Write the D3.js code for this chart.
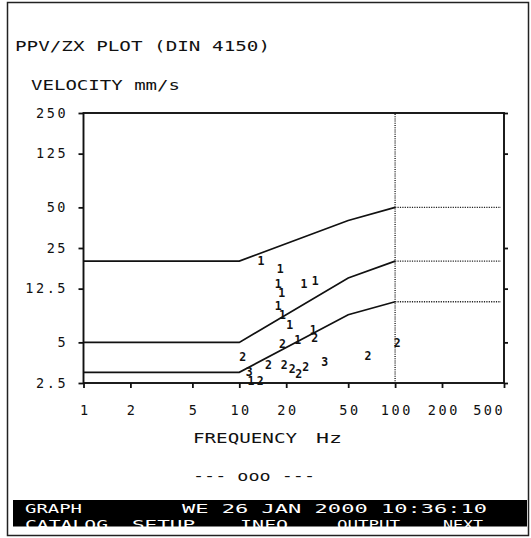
<!DOCTYPE html>
<html><head><meta charset="utf-8">
<script src="https://cdn.jsdelivr.net/npm/d3@7"></script>
<style>
html,body{margin:0;padding:0;background:#fff;}
svg text{font-family:"DejaVu Sans Mono",monospace;}
</style></head>
<body><svg id="c" width="531" height="538"></svg>
<script>
// ---- data ----
const yTicks = [2.5, 5, 12.5, 25, 50, 125, 250];
const yTickLabels = ["2.5", "5", "12.5", "25", "50", "125", "250"];
const rightTicks = [2.5, 5, 12.5, 25, 125, 250];
const xTicks = [1, 2, 5, 10, 20, 50, 100, 200, 500];
const xTickLabels = ["1", "2", "5", "10", "20", "50", "100", "200", "500"];

const limitFreq = [1, 10, 50, 100];
const limit1 = [20, 20, 40, 50];
const limit2 = [5, 5, 15, 20];
const limit3 = [3, 3, 8, 10];
const extFreq = [100, 500];

const p1Freq = [13.8, 18.3, 17.8, 18.7, 26, 30.7, 17.8, 18.9, 21.1, 23.7, 29.8, 11.9];
const p1Vel  = [20, 17.4, 13.5, 11.7, 13.5, 14.2, 9.3, 8.0, 6.7, 5.2, 6.2, 2.6];
const p2Freq = [30.5, 18.9, 10.5, 15.4, 19.4, 21.9, 24.1, 26.7, 67, 103, 13.6];
const p2Vel  = [5.4, 4.9, 3.9, 3.4, 3.4, 3.2, 2.9, 3.3, 4.0, 5.0, 2.6];
const p3Freq = [11.6, 35.4];
const p3Vel  = [3.0, 3.6];

// ---- drawing ----
const svg = d3.select("#c");
const L = 83.5, R = 504, T = 113, B = 383;
const x = d3.scaleLog().domain([1, 500]).range([L, R]);
const y = d3.scaleLog().domain([2.5, 250]).range([B, T]);

// page border
svg.append("rect").attr("x", 7.5).attr("y", 2.5).attr("width", 521).attr("height", 533)
  .attr("fill", "none").attr("stroke", "#222").attr("stroke-width", 1.5);

function txt(s, px, py, len, opts = {}) {
  const t = svg.append("text").attr("x", px).attr("y", py).text(s)
    .attr("font-size", opts.size || 13.5).attr("fill", opts.fill || "#111");
  if (len) t.attr("textLength", len).attr("lengthAdjust", "spacingAndGlyphs");
  if (opts.anchor) t.attr("text-anchor", opts.anchor);
  return t;
}

txt("PPV/ZX PLOT (DIN 4150)", 15, 51, 255);
txt("VELOCITY mm/s", 31, 90, 149);

// axes via d3
const yAxisL = d3.axisLeft(y).tickValues(yTicks).tickSize(5).tickFormat((d, i) => yTickLabels[i]).tickPadding(13);
const gL = svg.append("g").attr("transform", `translate(${L},0)`).call(yAxisL);
const yAxisR = d3.axisRight(y).tickValues(rightTicks).tickSize(4).tickFormat("");
const gR = svg.append("g").attr("transform", `translate(${R},0)`).call(yAxisR);
const xAxisB = d3.axisBottom(x).tickValues(xTicks).tickSize(5).tickFormat((d, i) => xTickLabels[i]).tickPadding(17);
const gB = svg.append("g").attr("transform", `translate(0,${B})`).call(xAxisB);

[gL, gR, gB].forEach(g => {
  g.select(".domain").remove();
  g.selectAll(".tick line").attr("stroke", "#111").attr("stroke-width", 1.8);
  g.selectAll(".tick text").attr("font-family", "DejaVu Sans Mono, monospace")
    .attr("font-size", 13.5).attr("fill", "#111").attr("letter-spacing", "2.6px");
});
gL.selectAll(".tick text").attr("dx", "2.6px");
gB.selectAll(".tick text").each(function () {
  const t = d3.select(this);
  const w = this.getComputedTextLength();
  const tx = +d3.select(this.parentNode).attr("transform").match(/translate\(([\d.]+)/)[1];
  let dx = 1.3;
  if (tx + w / 2 > R) dx = R - (tx + w / 2) + 1.3;
  t.attr("dx", dx);
});

// frame
svg.append("rect").attr("x", L).attr("y", T).attr("width", R - L).attr("height", B - T)
  .attr("fill", "none").attr("stroke", "#111").attr("stroke-width", 1.9);

// dotted 100 Hz vertical & extensions
svg.append("line").attr("x1", x(100)).attr("x2", x(100)).attr("y1", T + 1).attr("y2", B)
  .attr("stroke", "#222").attr("stroke-width", 1.4).attr("stroke-dasharray", "1,1.2");
[limit1, limit2, limit3].forEach(lim => {
  const v = lim[lim.length - 1];
  svg.append("line").attr("x1", x(extFreq[0])).attr("x2", x(extFreq[1]) - 3)
    .attr("y1", y(v)).attr("y2", y(v))
    .attr("stroke", "#222").attr("stroke-width", 1.4).attr("stroke-dasharray", "1.2,1.2");
});

// limit lines
const line = d3.line().x(d => x(d[0])).y(d => y(d[1]));
[limit1, limit2, limit3].forEach(lim => {
  svg.append("path").attr("d", line(limitFreq.map((f, i) => [f, lim[i]])))
    .attr("fill", "none").attr("stroke", "#111").attr("stroke-width", 1.7);
});

// points as digit markers
function marks(fs, vs, label) {
  svg.append("g").selectAll("text").data(fs.map((f, i) => [f, vs[i]])).join("text")
    .attr("x", d => x(d[0])).attr("y", d => y(d[1])).attr("dy", "0.36em")
    .attr("text-anchor", "middle").attr("font-family", "Roboto, sans-serif")
    .attr("font-weight", 900).attr("font-size", 11.5).attr("fill", "#111").text(label);
}
marks(p1Freq, p1Vel, "1");
marks(p2Freq, p2Vel, "2");
marks(p3Freq, p3Vel, "3");

// axis titles
txt("FREQUENCY", 193, 443, 104);
txt("Hz", 316, 443, 26);
txt("--- ooo ---", 193, 481, 122);

// bottom bar
svg.append("rect").attr("x", 13).attr("y", 500).attr("width", 514).attr("height", 26.5).attr("fill", "#000");
const wf = { fill: "#fff", size: 13 };
txt("GRAPH", 25, 512.5, 57, wf);
txt("WE 26 JAN 2000 10:36:10", 182, 512.5, 305, wf);
const row2 = [["CATALOG", 25, 83], ["SETUP", 132, 63], ["INFO", 240, 48], ["OUTPUT", 337, 63], ["NEXT", 443, 40]];
row2.forEach(r => txt(r[0], r[1], 529, r[2], wf));
</script></body></html>
